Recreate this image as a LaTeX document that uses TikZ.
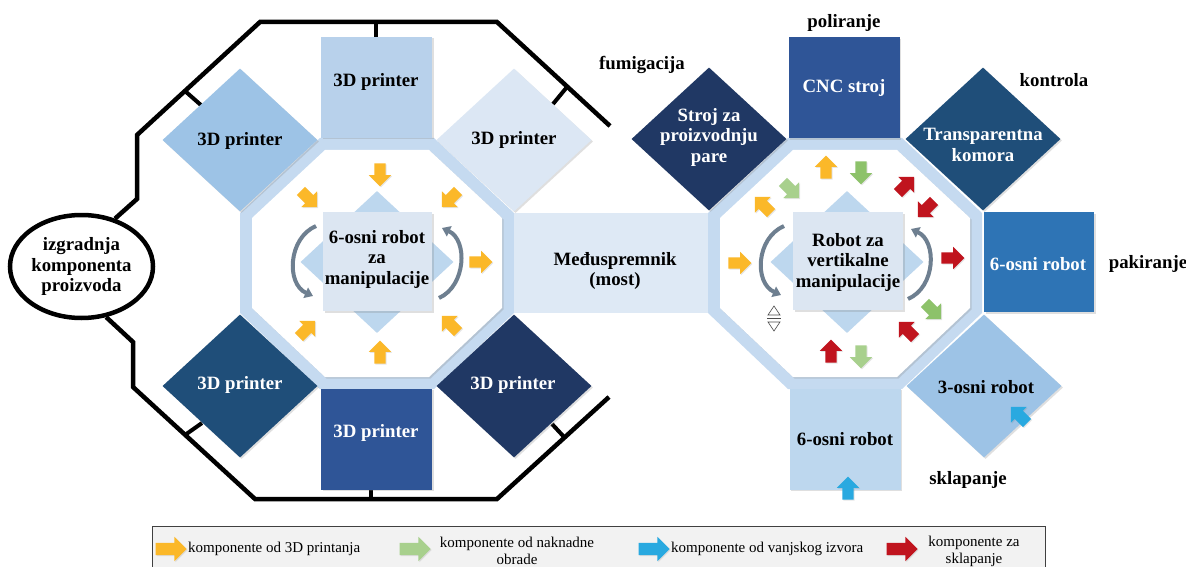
\documentclass[tikz,border=0pt]{standalone}
\usepackage{fontspec}
\setmainfont{Liberation Serif}
\usetikzlibrary{shapes.geometric,shapes.arrows,shadows,arrows.meta}
\definecolor{band}{HTML}{C5DAF0}
\definecolor{bridgec}{HTML}{DEE9F5}
\definecolor{cbox}{HTML}{DCE6F2}
\definecolor{cdia}{HTML}{BDD7EE}
\definecolor{lta}{HTML}{B8D1EB}
\definecolor{ltb}{HTML}{9DC3E6}
\definecolor{ltc}{HTML}{DCE7F4}
\definecolor{ltd}{HTML}{BDD7EE}
\definecolor{dka}{HTML}{1F4E79}
\definecolor{dkb}{HTML}{2F5597}
\definecolor{dkc}{HTML}{203864}
\definecolor{mdb}{HTML}{2E74B5}
\definecolor{ay}{HTML}{FBB829}
\definecolor{ag}{HTML}{8DC26A}
\definecolor{agl}{HTML}{A8D08D}
\definecolor{ab}{HTML}{29A9E0}
\definecolor{ar}{HTML}{C0141E}
\definecolor{arcg}{HTML}{6E7F90}
\begin{document}
\begin{tikzpicture}[x=1pt,y=-1pt,
  shad/.style={drop shadow={shadow xshift=1.5pt,shadow yshift=-1.5pt,opacity=0.25}},
  sq/.style={rectangle,draw=none,inner sep=0pt,minimum width=111pt,minimum height=101pt,shad},
  dia/.style={diamond,draw=none,inner sep=0pt,minimum width=155pt,minimum height=143pt,shad},
  smalldia/.style={diamond,draw=none,inner sep=0pt,minimum width=153pt,minimum height=142pt,fill=cdia},
  cbx/.style={rectangle,draw=none,inner sep=0pt,fill=cbox,shad},
  lbl/.style={font=\fontsize{18.8}{20.5}\selectfont\bfseries,align=center,inner sep=0pt},
  wlbl/.style={lbl,text=white},
  leg/.style={font=\fontsize{15}{17}\selectfont,align=center,inner sep=0pt},
  fat/.style={single arrow,draw=none,inner xsep=0pt,inner ysep=5.5pt,minimum height=23pt,single arrow head extend=5.5pt,
    drop shadow={shadow xshift=1pt,shadow yshift=-1pt,opacity=0.2}},
  legarr/.style={fat,inner ysep=6pt,minimum height=31pt,single arrow head extend=6pt},
  frame/.style={draw=black,line width=4.5pt,line join=miter},
  tick/.style={draw=black,line width=4pt},
  rot/.style={draw=arcg,line width=4pt,-{Triangle[length=8pt,width=11pt]}},
  symb/.style={draw=black!70,line width=0.6pt}
]
\useasboundingbox (0,0) rectangle (1186,567);
\fill[white] (0,0) rectangle (1186,567);

% ---------- black frame and ellipse ----------
\node[draw=black,line width=4.5pt,ellipse,minimum width=143pt,minimum height=103pt,inner sep=0pt,lbl] (el) at (81.5,266.5) {izgradnja\\komponenta\\proizvoda};
\draw[frame] (el.55) -- (137,199) -- (137,135) -- (260,22) -- (497,22) -- (610,126);
\draw[frame] (el.-64) -- (133,342) -- (133,387) -- (255,499) -- (497,499) -- (609,397);
\draw[tick] (376,22) -- (376,38);
\draw[tick] (185,91) -- (202,106);
\draw[tick] (567,87) -- (553,104);
\draw[tick] (185,435) -- (202,423);
\draw[tick] (565,438) -- (552,424);
\draw[tick] (371,499) -- (371,487);

% ---------- octagon bands ----------
\fill[band] (320,138) -- (434,138) -- (514,213) -- (514,313) -- (434,389) -- (320,389) -- (240,313) -- (240,213) -- cycle;
\fill[band] (788,138) -- (902,138) -- (982,213) -- (982,313) -- (902,389) -- (788,389) -- (708,313) -- (708,213) -- cycle;
\node[rectangle,draw=none,fill=bridgec,inner sep=0pt,minimum width=194pt,minimum height=100pt] (br) at (611,263) {};

% ---------- tiles left ----------
\node[sq,fill=lta] (p1) at (376.5,87.5) {};
\node[dia,fill=ltb] (p2) at (240,140) {};
\node[dia,fill=ltc] (p3) at (514,140) {};
\node[dia,fill=dka] (p4) at (240,386) {};
\node[sq,fill=dkb] (p5) at (376.5,439) {};
\node[dia,fill=dkc] (p6) at (514,386) {};

% ---------- tiles right ----------
\node[dia,fill=dkc] (s1) at (709,139) {};
\node[sq,fill=dkb] (s2) at (844,88) {};
\node[dia,fill=dka] (s3) at (983,139) {};
\node[sq,fill=mdb,minimum width=110pt,minimum height=100pt] (s4) at (1039,262) {};
\node[dia,fill=ltb] (s5) at (984,386) {};
\node[sq,fill=ltd] (s6) at (845,439) {};

% ---------- inner octagons ----------
\path[fill=white,shad] (325,150) -- (429,150) -- (502,218) -- (502,308) -- (429,377) -- (325,377) -- (252,308) -- (252,218) -- cycle;
\path[fill=white,shad] (793,150) -- (897,150) -- (970,218) -- (970,308) -- (897,377) -- (793,377) -- (720,308) -- (720,218) -- cycle;

% ---------- centre units ----------
\node[smalldia] (d1) at (377,262) {};
\node[cbx,minimum width=109pt,minimum height=99pt] (c1) at (377.5,261.5) {};
\node[smalldia] (d2) at (847,262) {};
\node[cbx,minimum width=110pt,minimum height=98pt] (c2) at (848,261) {};

% ---------- labels ----------
\node[lbl] (t1) at (376,82) {3D printer};
\node[lbl] (t2) at (240,141) {3D printer};
\node[lbl] (t3) at (514,140) {3D printer};
\node[wlbl] (t4) at (240,385) {3D printer};
\node[wlbl] (t5) at (376,433) {3D printer};
\node[wlbl] (t6) at (513,385) {3D printer};
\node[lbl] (t7) at (377,259) {6-osni robot\\za\\manipulacije};
\node[lbl] (t8) at (615,271) {Međuspremnik\\(most)};
\node[wlbl] (t9) at (709,137) {Stroj za\\proizvodnju\\pare};
\node[wlbl] (t10) at (844,88) {CNC stroj};
\node[wlbl] (t11) at (983,145) {Transparentna\\komora};
\node[wlbl] (t12) at (1038,264) {6-osni robot};
\node[lbl] (t13) at (986,387) {3-osni robot};
\node[lbl] (t14) at (845,439) {6-osni robot};
\node[lbl] (t15) at (848,262) {Robot za\\vertikalne\\manipulacije};
\node[lbl] (o1) at (642,65) {fumigacija};
\node[lbl] (o2) at (844,23) {poliranje};
\node[lbl] (o3) at (1054,80) {kontrola};
\node[lbl] (o4) at (1148,264) {pakiranje};
\node[lbl] (o5) at (968,480) {sklapanje};

% ---------- left cluster arrows ----------
\node[fat,fill=ay,rotate=-90] (y1) at (380,172) {};
\node[fat,fill=ay,rotate=-45] (y2) at (307,197) {};
\node[fat,fill=ay,rotate=-135] (y3) at (452,197) {};
\node[fat,fill=ay] (y4) at (478,262) {};
\node[fat,fill=ay,rotate=45] (y5) at (305,331) {};
\node[fat,fill=ay,rotate=90] (y6) at (380,355) {};
\node[fat,fill=ay,rotate=135] (y7) at (452,326) {};

% ---------- right cluster arrows ----------
\node[fat,fill=ay] (z1) at (737,263) {};
\node[fat,fill=ay,rotate=135] (z2) at (765,207) {};
\node[fat,fill=agl,rotate=-45] (z3) at (789,188) {};
\node[fat,fill=ay,rotate=90] (z4) at (826,170) {};
\node[fat,fill=ag,rotate=-90] (z5) at (861,170) {};
\node[fat,fill=ar,rotate=45] (z6) at (904,187) {};
\node[fat,fill=ar,rotate=-135] (z7) at (928,207) {};
\node[fat,fill=ar] (z8) at (950,258) {};
\node[fat,fill=ag,rotate=-45] (z9) at (931,309) {};
\node[fat,fill=ar,rotate=135] (z10) at (909,332) {};
\node[fat,fill=ar,rotate=90] (z11) at (831,354) {};
\node[fat,fill=agl,rotate=-90] (z12) at (861,354) {};
\node[fat,fill=ab,rotate=90] (z13) at (848,491) {};
\node[fat,fill=ab,rotate=135] (z14) at (1021,417) {};

% ---------- rotation arcs ----------
\coordinate (r1s) at (316,226); \coordinate (r1e) at (313,296);
\draw[rot] (r1s) .. controls (288,238) and (286,284) .. (r1e);
\coordinate (r2s) at (439,298); \coordinate (r2e) at (442,228);
\draw[rot] (r2s) .. controls (466,286) and (468,240) .. (r2e);
\coordinate (r3s) at (784,226); \coordinate (r3e) at (781,295);
\draw[rot] (r3s) .. controls (756,238) and (754,283) .. (r3e);
\coordinate (r4s) at (908,299); \coordinate (r4e) at (911,229);
\draw[rot] (r4s) .. controls (936,287) and (937,241) .. (r4e);

% ---------- up/down symbol ----------
\draw[symb] (768,315) -- (774,306) -- (780,315) -- cycle;
\draw[symb] (767,318.5) -- (781,318.5);
\draw[symb] (768,322) -- (774,331) -- (780,322) -- cycle;

% ---------- legend ----------
\node[draw=black!75,line width=1.2pt,fill=black!5,minimum width=893pt,minimum height=60pt,anchor=north west,inner sep=0pt] (lg) at (152,526) {};
\node[legarr,fill=ay] (l1) at (168,549) {};
\node[leg,anchor=west] (lt1) at (188,549) {komponente od 3D printanja};
\node[legarr,fill=agl] (l2) at (412,549) {};
\node[leg] (lt2) at (517,551) {komponente od naknadne\\obrade};
\node[legarr,fill=ab] (l3) at (651,549) {};
\node[leg,anchor=west] (lt3) at (671,549) {komponente od vanjskog izvora};
\node[legarr,fill=ar] (l4) at (899,549) {};
\node[leg] (lt4) at (974,551) {komponente za\\sklapanje};
\end{tikzpicture}
\end{document}
